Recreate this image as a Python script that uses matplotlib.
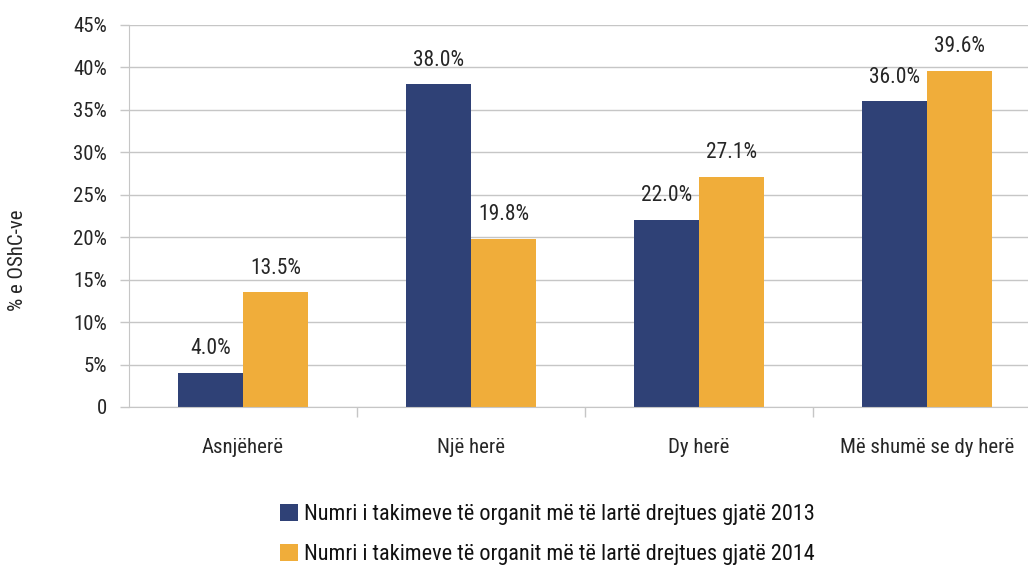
import matplotlib
matplotlib.use("Agg")
import matplotlib.pyplot as plt
from matplotlib import font_manager
import numpy as np

# Données du graphique
categories = ["Asnjëherë", "Një herë", "Dy herë", "Më shumë se dy herë"]
valeurs_2013 = [4.0, 38.0, 22.0, 36.0]
valeurs_2014 = [13.5, 19.8, 27.1, 39.6]
series_labels = [
    "Numri i takimeve të organit më të lartë drejtues gjatë 2013",
    "Numri i takimeve të organit më të lartë drejtues gjatë 2014",
]
yticks = [0, 5, 10, 15, 20, 25, 30, 35, 40, 45]
ytick_labels = ["0"] + [f"{v}%" for v in yticks[1:]]

BLEU = "#2f4176"
ORANGE = "#f0ad3a"
GRIS = "#c6c6c6"
TEXTE = "#262626"

# Police étroite si disponible
noms = {f.name for f in font_manager.fontManager.ttflist}
famille = "Roboto"
for nom in ["Roboto Condensed", "Liberation Sans Narrow", "Roboto"]:
    if nom in noms:
        famille = nom
        break
plt.rcParams["font.family"] = [famille, "DejaVu Sans"]

W, H = 1028, 567
fig = plt.figure(figsize=(W / 100, H / 100), dpi=100)
# axe de gauche à x=129, chaque catégorie fait 228 px (la droite dépasse l'image)
ax = fig.add_axes([129 / W, (H - 407) / H, 912 / W, 382 / H])

x = np.arange(len(categories))
largeur = 65 / 228
b1 = ax.bar(x - largeur / 2, valeurs_2013, largeur, color=BLEU, label=series_labels[0], zorder=3)
b2 = ax.bar(x + largeur / 2, valeurs_2014, largeur, color=ORANGE, label=series_labels[1], zorder=3)

for barres, vals in [(b1, valeurs_2013), (b2, valeurs_2014)]:
    for rect, v in zip(barres, vals):
        ax.annotate(f"{v:.1f}%", (rect.get_x() + rect.get_width() / 2, v),
                    xytext=(0, 10), textcoords="offset points",
                    ha="center", va="bottom", fontsize=15.5, color=TEXTE)

ax.set_xlim(-0.5, 3.5)
ax.set_ylim(0, 45)
ax.set_yticks(yticks)
ax.set_yticklabels(ytick_labels)
ax.set_xticks(x)
ax.set_xticklabels(categories)
ax.set_xticks([0.5, 1.5, 2.5], minor=True)

ax.tick_params(axis="y", length=6.5, width=1, color=GRIS, labelsize=15, labelcolor=TEXTE, pad=9.5)
ax.tick_params(axis="x", which="major", length=0, labelsize=15, labelcolor=TEXTE, pad=22)
ax.tick_params(axis="x", which="minor", length=7, width=1, color=GRIS)

ax.grid(axis="y", color=GRIS, linewidth=1, zorder=0)
for cote in ["top", "right"]:
    ax.spines[cote].set_visible(False)
ax.spines["left"].set_color(GRIS)
ax.spines["bottom"].set_color(GRIS)
ax.spines["bottom"].set_zorder(4)

fig.text(18 / W, 1 - 260 / H, "% e OShC-ve", rotation=90, ha="center", va="center",
         fontsize=15, color=TEXTE)

fig.legend(handles=[b1, b2], labels=series_labels, loc="upper left",
           bbox_to_anchor=(280 / W, 1 - 504 / H), frameon=False, fontsize=16,
           handlelength=0.8, handleheight=0.8, handletextpad=0.3, labelspacing=0.85,
           borderaxespad=0, borderpad=0, labelcolor="#111111")

fig.savefig("out.png", dpi=100)
